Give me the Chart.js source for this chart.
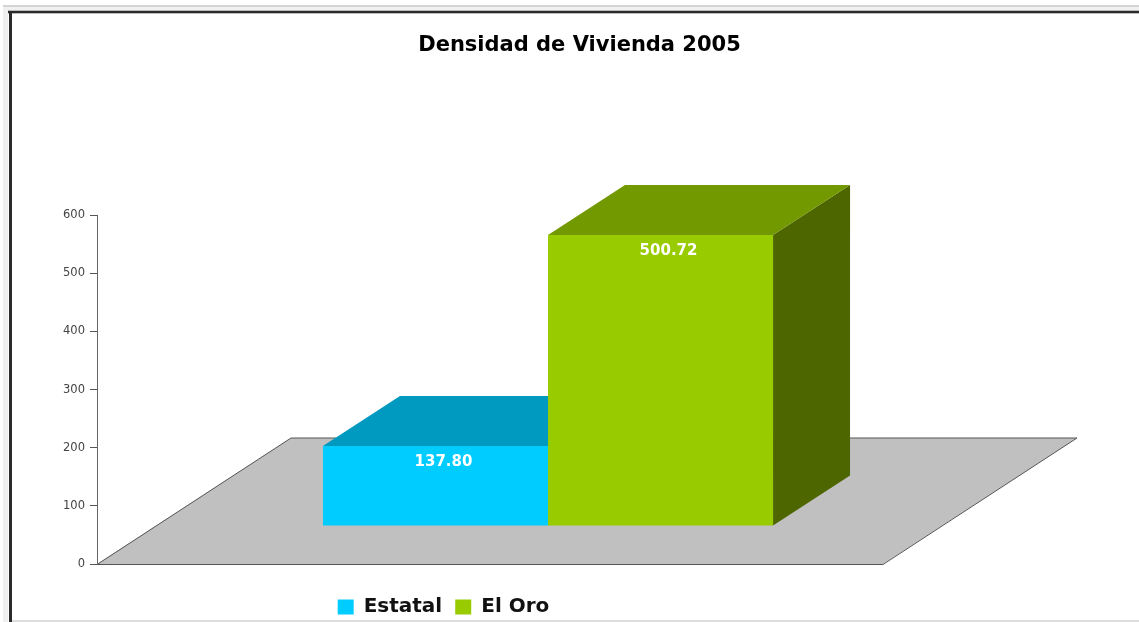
<!DOCTYPE html>
<html><head><meta charset="utf-8">
<style>html,body{margin:0;padding:0;background:#fff}#w{width:1139px;height:622px}canvas{display:block;filter:blur(.7px)}</style>
<script src="https://cdn.jsdelivr.net/npm/chart.js@4"></script>
</head><body><div id="w"><canvas id="c"></canvas></div>
<script>
const chartTitle = 'Densidad de Vivienda 2005';
const categories = ['Estatal', 'El Oro'];
const values = [137.80, 500.72];
const frontColors = ['#00CCFF', '#99CC00'];
const topColors = ['#0099BF', '#739900'];
const sideColors = ['#007399', '#4D6600'];

const LIFT = 38, BAR_DX = 77, BAR_DY = 50, FLOOR_W = 786, FLOOR_DX = 194, FLOOR_DY = 126;

function poly(ctx, pts, fill, stroke) {
  ctx.beginPath();
  pts.forEach((p, i) => i ? ctx.lineTo(p[0], p[1]) : ctx.moveTo(p[0], p[1]));
  ctx.closePath();
  ctx.fillStyle = fill; ctx.fill();
  if (stroke) { ctx.strokeStyle = stroke; ctx.lineWidth = 1; ctx.stroke(); }
}
const frame = {
  id: 'frame',
  beforeDraw(chart) {
    const c = chart.ctx;
    c.save();
    c.fillStyle = '#fff'; c.fillRect(0, 0, 1139, 622);
    c.fillStyle = '#d4d4d4'; c.fillRect(3, 5, 1136, 2);
    c.fillStyle = '#f0f0f0'; c.fillRect(3, 7, 5, 615); c.fillRect(3, 7, 1136, 3);
    c.fillStyle = '#bbb'; c.fillRect(8, 10, 1131, 4);
    c.fillStyle = '#2a2a2a'; c.fillRect(8, 11, 1131, 2); c.fillRect(9, 11, 3, 611);
    c.fillStyle = '#ddd'; c.fillRect(12, 620, 1127, 2);
    c.restore();
  },
  afterLayout(chart) {
    const t = chart.titleBlock, l = chart.legend;
    t.left += 80; t.right += 80;
    l.left -= 56; l.right -= 56;
    l.top += 20; l.bottom += 20;
  }
};
const box3d = {
  id: 'box3d',
  beforeDatasetsDraw(chart) {
    const c = chart.ctx, a = chart.chartArea, y0 = chart.scales.y.getPixelForValue(0), L = a.left;
    c.save();
    poly(c, [[L, y0], [L + FLOOR_DX, y0 - FLOOR_DY], [L + FLOOR_W + FLOOR_DX, y0 - FLOOR_DY], [L + FLOOR_W, y0]], '#C0C0C0');
    c.strokeStyle = '#555'; c.lineWidth = 1;
    c.beginPath();
    c.moveTo(L + FLOOR_W, y0 + .5); c.lineTo(L, y0 + .5); c.lineTo(L + FLOOR_DX, y0 - FLOOR_DY);
    c.lineTo(L + FLOOR_W + FLOOR_DX, y0 - FLOOR_DY); c.lineTo(L + FLOOR_W, y0 + .5);
    c.stroke();
    chart.data.datasets.forEach((ds, i) => {
      const b = chart.getDatasetMeta(i).data[0], l = b.x - b.width / 2, r = b.x + b.width / 2;
      const t = b.y - LIFT, bt = b.base - LIFT;
      poly(c, [[r, t], [r + BAR_DX, t - BAR_DY], [r + BAR_DX, bt - BAR_DY], [r, bt]], sideColors[i]);
      poly(c, [[l, t], [l + BAR_DX, t - BAR_DY], [r + BAR_DX, t - BAR_DY], [r, t]], topColors[i]);
    });
    c.translate(0, -LIFT);
  },
  afterDatasetsDraw(chart) {
    const c = chart.ctx;
    c.restore();
    c.save();
    c.font = 'bold 15px "DejaVu Sans"';
    c.fillStyle = '#fff'; c.textAlign = 'center'; c.textBaseline = 'middle';
    chart.data.datasets.forEach((ds, i) => {
      const b = chart.getDatasetMeta(i).data[0];
      c.fillText(ds.data[0].toFixed(2), b.x + 8, b.y - LIFT + 16);
    });
    c.restore();
  }
};
new Chart(document.getElementById('c'), {
  type: 'bar',
  data: {
    labels: [''],
    datasets: categories.map((name, i) => ({
      label: name, data: [values[i]], backgroundColor: frontColors[i], borderWidth: 0
    }))
  },
  plugins: [frame, box3d],
  options: {
    responsive: true, maintainAspectRatio: false, animation: false,
    categoryPercentage: 0.499, barPercentage: 1,
    layout: { padding: { left: 0, right: 140, top: 0, bottom: 15 } },
    plugins: {
      tooltip: { enabled: false },
      title: { display: true, text: chartTitle, color: '#000', align: 'center',
        font: { family: '"DejaVu Sans"', size: 21, weight: 'bold' }, padding: { top: 33, bottom: 157 } },
      legend: { position: 'bottom',
        labels: { boxWidth: 16, boxHeight: 15, padding: 13, color: '#111',
          font: { family: '"DejaVu Sans"', size: 20, weight: 'bold' } } }
    },
    scales: {
      x: { display: false },
      y: { min: 0, max: 600, afterFit(s) { s.width = 97; },
        border: { color: '#666', display: true },
        grid: { drawOnChartArea: false, tickLength: 7, color: '#555' },
        ticks: { stepSize: 100, color: '#444', padding: 5, font: { family: '"DejaVu Sans"', size: 11.5 } } }
    }
  }
});
</script></body></html>
